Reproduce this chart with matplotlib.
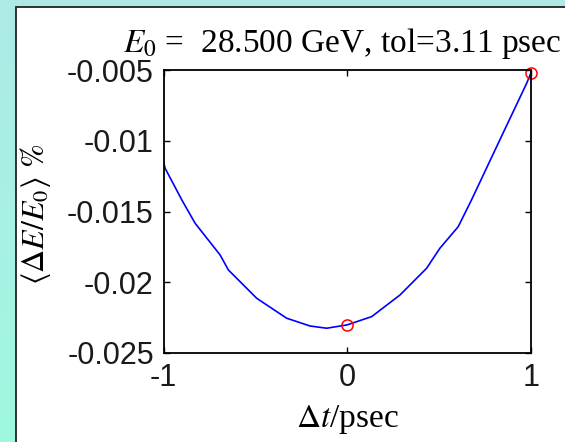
import numpy as np
import matplotlib
matplotlib.use('Agg')
import matplotlib.pyplot as plt
from matplotlib.colors import LinearSegmentedColormap
from matplotlib.patches import Rectangle

# values
dt = [-1.0, -0.991, -0.900, -0.828, -0.692, -0.647, -0.493, -0.330, -0.203, -0.112,
      0.0, 0.133, 0.287, 0.432, 0.504, 0.604, 0.676, 0.830, 0.976, 1.0]
dE = [-0.01148, -0.01195, -0.01419, -0.01583, -0.01807, -0.01913, -0.02113, -0.02254,
      -0.02309, -0.02325, -0.02301, -0.02243, -0.02090, -0.01901, -0.01760, -0.01607,
      -0.01419, -0.00995, -0.00595, -0.00520]
mark_dt = [0.0, 1.0]
mark_dE = [-0.02301, -0.00520]
yticks = [-0.025, -0.02, -0.015, -0.01, -0.005]
ytick_labels = ['-0.025', '-0.02', '-0.015', '-0.01', '-0.005']
xticks = [-1, 0, 1]

plt.rcParams['mathtext.fontset'] = 'stix'

W, H = 565, 442
fig = plt.figure(figsize=(W / 100, H / 100), dpi=100)

# cyan backdrop + white panel
bg = fig.add_axes([0, 0, 1, 1], zorder=-2)
grad = np.linspace(0, 1, 256).reshape(-1, 1)
cm = LinearSegmentedColormap.from_list('bg', ['#aeeae6', '#a0f8e0'])
bg.imshow(grad, aspect='auto', cmap=cm, extent=[0, 1, 0, 1], origin='upper')
bg.add_patch(Rectangle((16 / W, -0.05), 1.1, 1.05 - 7 / H, transform=bg.transAxes,
                       facecolor='white', edgecolor='#222222', lw=1.3, zorder=3))
bg.set_xlim(0, 1)
bg.set_ylim(0, 1)
bg.axis('off')

ax = fig.add_axes([163.5 / W, 1 - 353 / H, (531 - 163.5) / W, (353 - 70) / H])
ax.plot(dt, dE, color='#0000ff', lw=1.2)
ax.plot(mark_dt, mark_dE, 'o', mfc='none', mec='red', ms=8, mew=1.1, clip_on=False)
ax.set_xlim(-1, 1)
ax.set_ylim(-0.025, -0.005)
ax.set_xticks(xticks)
ax.set_xticklabels([str(v) for v in xticks])
ax.set_yticks(yticks)
ax.set_yticklabels(ytick_labels)
ax.tick_params(direction='in', top=True, right=True, length=4, width=1, pad=7,
               labelsize=22, labelcolor='#1a1a1a')
for lab in ax.get_xticklabels() + ax.get_yticklabels():
    lab.set_fontfamily('Liberation Sans')
for s in ax.spines.values():
    s.set_linewidth(1.3)

ax.set_xlabel(r'$\Delta t$/psec', fontsize=24, family='Liberation Serif')
ax.xaxis.set_label_coords(0.5, -0.175)
ax.set_ylabel(r'$\langle \mathit{\Delta E/E}_0\rangle\ \%$', fontsize=23,
              family='Liberation Serif')
ax.yaxis.set_label_coords(-0.30, 0.49)

fig.text(342 / W, 1 - 52 / H, r'$E_0$ =  28.500 GeV, tol=3.11 psec', ha='center',
         va='baseline', fontsize=24, family='Liberation Serif')

fig.savefig('out.png', dpi=100)
